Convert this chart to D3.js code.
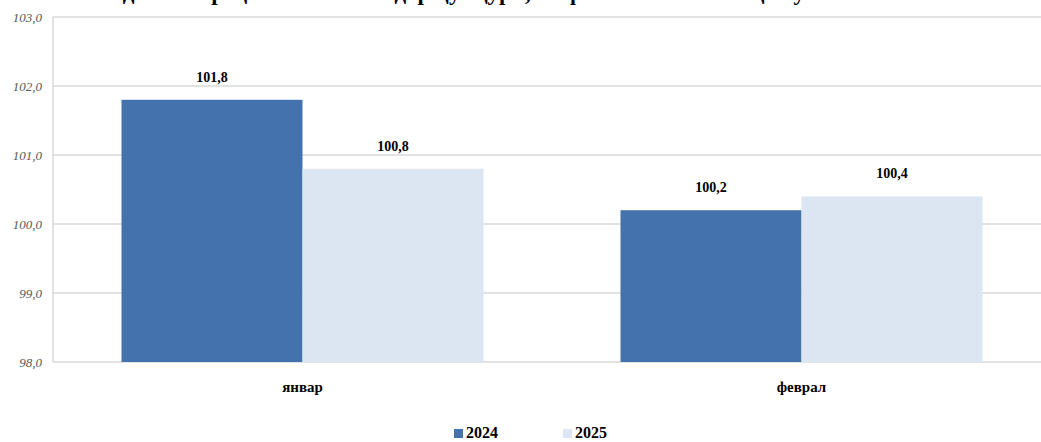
<!DOCTYPE html>
<html>
<head>
<meta charset="utf-8">
<script src="https://cdn.jsdelivr.net/npm/d3@7"></script>
<style>
  html, body { margin: 0; padding: 0; background: #fff; }
  svg { display: block; }
</style>
</head>
<body>
<div id="chart"></div>
<script>
const titleText = "Индекси нархҳои истеъмолӣ дар ҷумҳурӣ, бо фоиз нисбат ба моҳи гузашта";
const categories = ["январ", "феврал"];
const seriesNames = ["2024", "2025"];
const values2024 = [101.8, 100.2];
const values2025 = [100.8, 100.4];
const yTicks = [98, 99, 100, 101, 102, 103];
const colors = ["#4472AD", "#DCE6F2"];

const W = 1041, H = 442;
const svg = d3.select("#chart").append("svg").attr("width", W).attr("height", H);

const y = d3.scaleLinear().domain([98, 103]).range([362, 17]);
const x0 = d3.scaleBand().domain(categories).range([53, 1051]).paddingInner(0.2745).paddingOuter(0.13725);
const x1 = d3.scaleBand().domain(seriesNames).range([0, x0.bandwidth()]).padding(0);

const fmt = v => d3.format(".1f")(v).replace(".", ",");

// title (cut off at top, as in reference)
svg.append("text")
  .attr("x", 480).attr("y", 0)
  .attr("text-anchor", "middle")
  .attr("font-family", "Liberation Serif, serif")
  .attr("font-weight", "bold")
  .attr("font-size", 23)
  .attr("fill", "#000")
  .text(titleText);

// gridlines
svg.append("g")
  .selectAll("line").data(yTicks).join("line")
  .attr("x1", 53).attr("x2", W)
  .attr("y1", d => y(d)).attr("y2", d => y(d))
  .attr("stroke", "#d9d9d9").attr("stroke-width", 1.5);

// left axis line
svg.append("line")
  .attr("x1", 53).attr("x2", 53).attr("y1", y(103)).attr("y2", y(98))
  .attr("stroke", "#d9d9d9").attr("stroke-width", 1.5);

// y tick labels via axis
const yAxis = d3.axisLeft(y).tickValues(yTicks).tickFormat(fmt).tickSize(0).tickPadding(11);
const yg = svg.append("g").attr("transform", "translate(53,0)").call(yAxis);
yg.select(".domain").remove();
yg.selectAll("text")
  .attr("font-family", "Liberation Serif, serif")
  .attr("font-style", "italic")
  .attr("font-size", 13)
  .attr("fill", "#595959");

// bars
const data = categories.map((c, i) => ({ cat: c, vals: [values2024[i], values2025[i]] }));
const groups = svg.append("g").selectAll("g").data(data).join("g")
  .attr("transform", d => `translate(${x0(d.cat)},0)`);

groups.selectAll("rect")
  .data(d => d.vals.map((v, j) => ({ key: seriesNames[j], v, j })))
  .join("rect")
  .attr("x", d => x1(d.key))
  .attr("width", x1.bandwidth())
  .attr("y", d => y(d.v))
  .attr("height", d => y(98) - y(d.v))
  .attr("fill", d => colors[d.j]);

groups.selectAll("text.val")
  .data(d => d.vals.map((v, j) => ({ key: seriesNames[j], v, j })))
  .join("text")
  .attr("class", "val")
  .attr("x", d => x1(d.key) + x1.bandwidth() / 2)
  .attr("y", d => y(d.v) - 18)
  .attr("text-anchor", "middle")
  .attr("font-family", "Liberation Serif, serif")
  .attr("font-weight", "bold")
  .attr("font-size", 14)
  .attr("fill", "#000")
  .text(d => fmt(d.v));

// x axis labels
const xAxis = d3.axisBottom(x0).tickSize(0).tickPadding(19);
const xg = svg.append("g").attr("transform", `translate(0,${y(98)})`).call(xAxis);
xg.select(".domain").remove();
xg.selectAll("text")
  .attr("font-family", "Liberation Serif, serif")
  .attr("font-weight", "bold")
  .attr("font-size", 15)
  .attr("fill", "#000");

// legend
const legend = svg.append("g").attr("transform", "translate(454,438)");
const li = legend.selectAll("g").data(seriesNames).join("g")
  .attr("transform", (d, i) => `translate(${i * 109},0)`);
li.append("rect").attr("x", 0).attr("y", -9).attr("width", 9).attr("height", 9)
  .attr("fill", (d, i) => colors[i]);
li.append("text").attr("x", 12).attr("y", 0)
  .attr("font-family", "Liberation Serif, serif")
  .attr("font-weight", "bold")
  .attr("font-size", 16)
  .attr("fill", "#000")
  .text(d => d);
</script>
</body>
</html>
